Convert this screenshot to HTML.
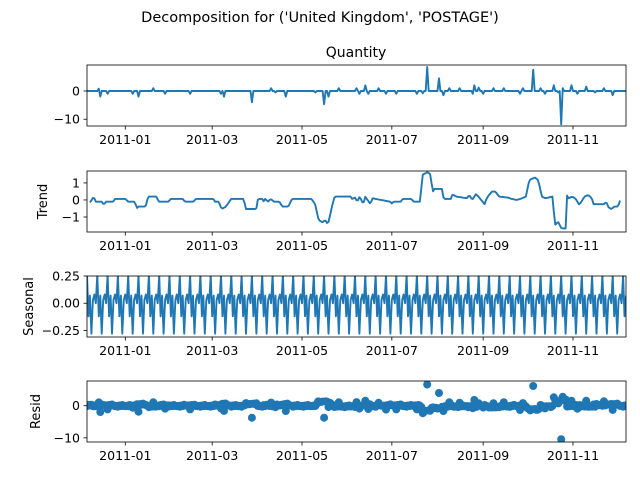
<!DOCTYPE html>
<html><head><meta charset="utf-8"><style>
body{margin:0;background:#fff}
svg{display:block;font-family:"DejaVu Sans","Liberation Sans",sans-serif}
</style></head><body>
<svg id="chart" width="640" height="480" viewBox="0 0 640 480" xmlns="http://www.w3.org/2000/svg">
<text x="320" y="22" text-anchor="middle" font-size="14.5">Decomposition for ('United Kingdom', 'POSTAGE')</text>
<text x="356" y="57" text-anchor="middle" font-size="14">Quantity</text>
</svg>
<script>
// ---- data (days since 2010-12-06) ----
const tickDays = [26, 85, 146, 207, 269, 330];
const tickLabels = ["2011-01", "2011-03", "2011-05", "2011-07", "2011-09", "2011-11"];
const lastDay = 366;
const obsSpikeDays = [7.5,8.7,14.3,30.5,35.4,44.6,52.6,69.6,91.4,93.3,111.8,125.1,127.5,134.8,154.9,160.5,163.9,171.4,182.8,185.2,188.9,190.8,197.6,203.4,209.5,224,227.6,230.5,238.5,242.2,246.3,253.1,261.6,262.8,266.4,268.9,276.1,283.4,294.3,295.5,303.3,307.6,311.3,317.3,320.2,321.9,323.4,329,333.1,339.2,345,351.3,356.6];
const obsSpikeVals = [0.8,-2,-1,-1,-2,1,-1,-1,-1,-2,-4,1,-0.5,-2,-0.5,-4.7,-2,1,1,-1,2,-1,1,-1,-1,-1,-0.8,8.5,4.5,-1.5,1,1,-1,2,1.2,-1,1,1,-1,1,7.5,1,-1,2,-0.5,-11.8,1,2,-1,1.5,-0.5,1,-1.5];
const trendDays = [2.2,4.6,5.8,10.7,11.4,12.4,17.9,18.7,26.4,27.6,32.5,33.7,34.9,39.8,41.5,47.0,48.7,55.5,56.7,65.2,66.4,72.5,73.7,85.8,87.0,89.5,91.4,94.3,97.9,106.4,107.9,114.9,116.1,119.0,119.8,121.0,122.9,124.6,127.0,130.7,132.6,136.7,139.2,152.5,154.9,157.3,159.8,161.7,163.6,164.6,166.3,168.2,179.2,180.4,181.6,183.5,185.2,187.6,188.9,192.5,193.7,196.1,205.8,207.0,208.2,213.1,214.3,220.4,221.6,226.4,227.6,231.3,233.7,234.4,235.4,241.0,242.2,247.0,248.2,250.7,257.9,259.6,261.6,264.0,265.9,267.6,270.1,271.3,274.9,277.3,279.8,285.8,288.3,291.9,295.5,298.0,300.4,304.0,306.4,308.8,311.3,316.1,317.8,319.8,322.2,325.1,325.8,327.0,329.5,331.9,334.3,337.9,340.4,342.8,344.0,351.3,352.5,354.2,356.1,358.1,360.5,362.4];
const trendVals = [-0.14,0.2,-0.1,-0.1,-0.39,-0.1,-0.1,0.06,0.06,-0.1,-0.1,-0.49,-0.39,-0.39,0.2,0.2,-0.1,-0.1,0.06,0.06,-0.1,-0.1,0.06,0.06,-0.1,-0.1,-0.53,-0.39,0.06,0.06,-0.53,-0.53,0.06,0.06,-0.1,0.06,-0.1,0.06,-0.1,-0.1,-0.39,-0.39,0.06,0.06,-0.25,-1.18,-1.31,-1.18,-1.43,-1.08,-0.39,0.2,0.2,0,0.2,-0.1,0.2,-0.25,0.2,-0.25,0.1,0.06,-0.1,-0.2,-0.1,-0.1,0.06,0.06,-0.1,-0.1,1.47,1.63,1.47,0.29,0.65,0.65,0.06,0.06,0.33,0.2,0.1,0.29,0,0.33,0.2,0,-0.25,0.1,0.49,0.49,0.2,0.14,0.06,0,0.1,0.2,1.18,1.31,1.18,0.2,0.1,0.2,-1.47,-1.27,-1.67,-1.67,0.29,0.1,0.2,0.06,-0.29,0.2,0.29,0.1,-0.25,-0.25,-0.1,-0.45,-0.53,-0.39,-0.39,0.06];
const seasonalPattern = [0.26,-0.12,0.07,-0.28,0.03,0.08,0.0];

// ---- layout ----
const NS = "http://www.w3.org/2000/svg";
const svg = document.getElementById("chart");
const X0 = 87, X1 = 626, D0 = 0, D1 = 366;
const xs = d => X0 + (d - D0) / (D1 - D0) * (X1 - X0);
const panels = [
  {key:"observed", top:65, bot:126, ymax:9.2, ymin:-12.4, ticks:[0,-10], labels:["0","\u221210"], ylabel:null},
  {key:"trend", top:171, bot:232, ymax:1.7, ymin:-1.88, ticks:[1,0,-1], labels:["1","0","\u22121"], ylabel:"Trend"},
  {key:"seasonal", top:276, bot:337, ymax:0.25, ymin:-0.31, ticks:[0.25,0,-0.25], labels:["0.25","0.00","\u22120.25"], ylabel:"Seasonal"},
  {key:"resid", top:381, bot:442, ymax:7.7, ymin:-11.3, ticks:[0,-10], labels:["0","\u221210"], ylabel:"Resid"}
];
function mk(tag, attrs){const e=document.createElementNS(NS,tag);for(const k in attrs)e.setAttribute(k,attrs[k]);return e;}

const days=[]; for(let d=0; d<=lastDay; d++) days.push(d);
const observed = days.map(()=>0);
obsSpikeDays.forEach((d,i)=>{observed[Math.round(d)] = obsSpikeVals[i];});
function trendAt(d){
  if(d<=trendDays[0]) return trendVals[0];
  for(let i=1;i<trendDays.length;i++){ if(d<=trendDays[i]){const t=(d-trendDays[i-1])/(trendDays[i]-trendDays[i-1]);return trendVals[i-1]+t*(trendVals[i]-trendVals[i-1]);} }
  return trendVals[trendVals.length-1];
}
const seasonal = days.map(d=>seasonalPattern[d%7]);
const trend = days.map(trendAt);
const resid = days.map((d,i)=>observed[i]-trend[i]-seasonal[i]);

panels.forEach(p=>{
  const ys = v => p.top + (p.ymax - v)/(p.ymax - p.ymin)*(p.bot-p.top);
  const g = mk("g",{});
  
  
  svg.appendChild(g);
  const clip = mk("clipPath",{id:"clip-"+p.key});
  clip.appendChild(mk("rect",{x:X0,y:p.top,width:X1-X0,height:p.bot-p.top}));
  g.appendChild(clip);
  const plot = mk("g",{"clip-path":"url(#clip-"+p.key+")"});
  
  
  g.appendChild(plot);
  if(p.key==="resid"){
    days.forEach((d,i)=>{
      const c = mk("circle",{cx:xs(d).toFixed(1),cy:ys(resid[i]).toFixed(1),r:4,fill:"#1f77b4"});
      
      
      plot.appendChild(c);
    });
  } else {
    let arr = p.key==="observed"?observed:(p.key==="trend"?trend:seasonal);
    let dd = days;
    if(p.key==="trend"){ dd = days.filter(d=>d>=2 && d<=362); arr = dd.map(trendAt); }
    const pts = dd.map((d,i)=>xs(d).toFixed(1)+","+ys(arr[i]).toFixed(1)).join(" ");
    const line = mk("polyline",{points:pts,fill:"none",stroke:"#1f77b4","stroke-width":1.9,"stroke-linejoin":"round"});
    
    
    plot.appendChild(line);
  }
  const fr = mk("rect",{x:X0,y:p.top,width:X1-X0,height:p.bot-p.top,fill:"none",stroke:"#000","stroke-width":0.8});
  
  
  g.appendChild(fr);
  p.ticks.forEach((t,i)=>{
    const y = ys(t);
    g.appendChild(mk("line",{x1:X0-3.5,x2:X0,y1:y,y2:y,stroke:"#000","stroke-width":0.8}));
    const tx = mk("text",{x:X0-7,y:y+4.5,"text-anchor":"end","font-size":12.5});
    
    
    tx.textContent = p.labels[i];
    g.appendChild(tx);
  });
  tickDays.forEach((d,i)=>{
    const x = xs(d);
    g.appendChild(mk("line",{x1:x,x2:x,y1:p.bot,y2:p.bot+3.5,stroke:"#000","stroke-width":0.8}));
    const tx = mk("text",{x:x,y:p.bot+18,"text-anchor":"middle","font-size":12.5});
    
    
    tx.textContent = tickLabels[i];
    g.appendChild(tx);
  });
  if(p.ylabel){
    const cy=(p.top+p.bot)/2;
    const yl = mk("text",{x:0,y:0,transform:"translate("+(p.key==="seasonal"?33:p.key==="trend"?47:40)+","+cy+") rotate(-90)","text-anchor":"middle","font-size":13});
    
    
    yl.textContent = p.ylabel;
    g.appendChild(yl);
  }
});
</script>
</body></html>
